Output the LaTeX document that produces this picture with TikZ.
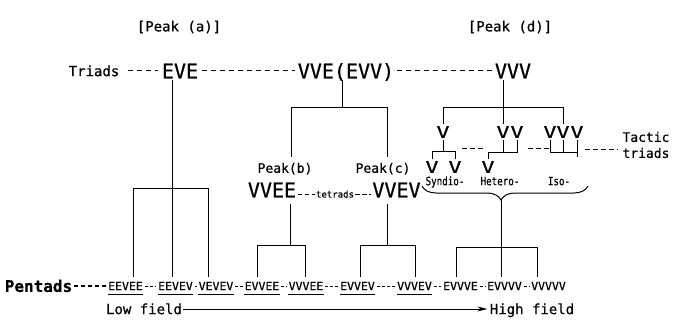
\documentclass[tikz,border=0pt]{standalone}
\usepackage{fontspec}
\newfontfamily\lettering[FakeBold=0.6]{DejaVu Sans Mono}
\newfontfamily\wideletter[FakeStretch=1.35, FakeBold=0.6]{DejaVu Sans Mono}
\newfontfamily\narrowletter[FakeStretch=0.8, FakeBold=0.6]{DejaVu Sans Mono}
\usetikzlibrary{arrows.meta,decorations.pathreplacing}
\newcommand\lsz[1]{\fontsize{#1}{#1}\selectfont}

\tikzset{
  every node/.style={inner sep=0pt},
  headtxt/.style={font=\lettering\lsz{14}},
  axistxt/.style={font=\lettering\lsz{14}, text height=10.2pt, text depth=0pt},
  triadtxt/.style={font=\lettering\lsz{20}, text height=14.6pt, text depth=0pt, inner ysep=1.5pt},
  tetradtxt/.style={font=\lettering\lsz{20}, text height=14.6pt, text depth=0pt, inner ysep=6pt},
  tettxt/.style={font=\lettering\lsz{9}, anchor=base},
  peaktxt/.style={font=\lettering\lsz{13}, text height=9.5pt, text depth=0pt, inner ysep=6pt},
  pentlbl/.style={font=\lettering\bfseries\lsz{16}, text height=11.7pt, text depth=0pt},
  penttxt/.style={font=\lettering\lsz{11.5}, text height=8.4pt, text depth=0pt, inner ysep=4pt},
  tvtxt/.style={font=\wideletter\lsz{16}, text height=11.7pt, text depth=0pt, inner ysep=2pt},
  smalltxt/.style={font=\narrowletter\lsz{11.5}, text height=8.4pt, text depth=0pt},
  tactxt/.style={font=\lettering\fontsize{13}{16}\selectfont, align=left},
  dashln/.style={dash pattern=on 5.5pt off 3.5pt, line width=1pt},
  leaddash/.style={dash pattern=on 4.5pt off 2.5pt, line width=1.6pt, shorten <=1pt, shorten >=2pt},
  pentdash/.style={dash pattern=on 3pt off 2pt, line width=1pt, shorten <=1.5pt, shorten >=1.5pt},
  tacdash/.style={dash pattern=on 5pt off 3pt, line width=1pt},
  uline/.style={line width=0.9pt},
}

\begin{document}
\begin{tikzpicture}[x=1pt, y=-1pt, line width=1pt]
\useasboundingbox (0,0) rectangle (679,331);
\fill[white] (0,0) rectangle (679,331);

% peak headings
\node[headtxt] (pka) at (179,27) {[Peak (a)]};
\node[headtxt] (pkd) at (510,27) {[Peak (d)]};

% triad row
\node[axistxt] (tri) at (94,71) {Triads};
\node[triadtxt] (eve) at (180,71) {EVE};
\node[triadtxt] (vve) at (346,71) {VVE(EVV)};
\node[triadtxt] (vvv) at (513,71) {VVV};
\draw[dashln, shorten <=8pt, shorten >=3pt] (tri.east) -- (eve.west);
\draw[dashln, shorten <=3pt, shorten >=2pt] (eve.east) -- (vve.west);
\draw[dashln, shorten <=2pt, shorten >=2pt] (vve.east) -- (vvv.west);

% peak (b) / peak (c) labels and tetrads
\node[peaktxt] (pkb) at (285,168) {Peak(b)};
\node[peaktxt] (pkc) at (383,168) {Peak(c)};
\node[tetradtxt] (vvee) at (272,190) {VVEE};
\node[tettxt] (tet) at (335,197.5) {tetrads};
\node[tetradtxt] (vvev) at (396.5,190) {VVEV};
\draw[dashln, dash pattern=on 4.5pt off 2.5pt, shorten <=1pt, shorten >=1pt] (tet.west -| vvee.east) -- (tet.west);
\draw[dashln, dash pattern=on 4.5pt off 2.5pt, shorten <=1pt, shorten >=1pt] (tet.east) -- (tet.east -| vvev.west);

% tactic triads
\node[tvtxt] (v1) at (443,132) {V};
\node[tvtxt] (vv1) at (503,132) {V};
\node[tvtxt] (vv2) at (517,132) {V};
\node[tvtxt] (vvv1) at (550,132) {V};
\node[tvtxt] (vvv2) at (563,132) {V};
\node[tvtxt] (vvv3) at (577,132) {V};
\node[tvtxt] (s1) at (432,167) {V};
\node[tvtxt] (s2) at (455,167) {V};
\node[tvtxt] (h1) at (488,167) {V};
\node[tactxt] (tac) at (646,145) {Tactic\\triads};
\node[smalltxt] (syn) at (445,181) {Syndio-};
\node[smalltxt] (het) at (500,181) {Hetero-};
\node[smalltxt] (iso) at (559,181) {Iso-};

% pentad row
\node[pentlbl] (plbl) at (38.5,286) {Pentads};
\node[penttxt] (p1) at (125.5,286) {EEVEE};
\node[penttxt] (p2) at (175.5,286) {EEVEV};
\node[penttxt] (p3) at (216,286) {VEVEV};
\node[penttxt] (p4) at (262,286) {EVVEE};
\node[penttxt] (p5) at (306,286) {VVVEE};
\node[penttxt] (p6) at (357.5,286) {EVVEV};
\node[penttxt] (p7) at (414.5,286) {VVVEV};
\node[penttxt] (p8) at (460.5,286) {EVVVE};
\node[penttxt] (p9) at (504.5,286) {EVVVV};
\node[penttxt] (p10) at (548.5,286) {VVVVV};
\draw[leaddash] (plbl.east) -- (p1.west);
\draw[pentdash] (p1) -- (p2);
\draw[pentdash] (p2) -- (p3);
\draw[pentdash] (p3) -- (p4);
\draw[pentdash] (p4) -- (p5);
\draw[pentdash] (p5) -- (p6);
\draw[pentdash] (p6) -- (p7);
\draw[pentdash] (p7) -- (p8);
\draw[pentdash] (p8) -- (p9);
\draw[pentdash] (p9) -- (p10);
\foreach \n in {p1,p2,p3,p4,p5,p6,p7}
  \draw[uline] (\n.south west) -- (\n.south east);

% field axis
\node[axistxt] (low) at (144,309) {Low field};
\node[axistxt] (high) at (532,309) {High field};
\draw[line width=0.9pt, -{Stealth[length=10pt, width=5pt]}, shorten <=1pt, shorten >=2pt] (low.east) -- (high.west);

% EVE tree
\coordinate (ja) at (172,188);
\coordinate (ja1) at (133,188);
\coordinate (ja3) at (208,188);
\draw (eve.south -| ja) -- (ja |- p2.north);
\draw (ja1 |- p1.north) -- (ja1) -- (ja3) -- (ja3 |- p3.north);

% VVE(EVV) tree
\coordinate (jb) at (342,108);
\coordinate (jb1) at (291,108);
\coordinate (jb2) at (387,108);
\draw (vve.south -| jb) -- (jb);
\draw (jb1 |- pkb.north) -- (jb1) -- (jb2) -- (jb2 |- pkc.north);

% tetrad trees
\coordinate (jc) at (290,245);
\coordinate (jc1) at (257,245);
\coordinate (jc2) at (305,245);
\draw (vvee.south -| jc) -- (jc);
\draw (jc1 |- p4.north) -- (jc1) -- (jc2) -- (jc2 |- p5.north);
\coordinate (jd) at (387,245);
\coordinate (jd1) at (360,245);
\coordinate (jd2) at (415,245);
\draw (vvev.south -| jd) -- (jd);
\draw (jd1 |- p6.north) -- (jd1) -- (jd2) -- (jd2 |- p7.north);

% VVV tree
\coordinate (jv) at (503,108);
\draw (vvv.south -| vv1) -- (vv1.north);
\draw (v1.north) -- (v1.north |- jv) -- (jv -| vvv2) -- (vvv2.north);

% syndio, hetero, iso brackets
\coordinate (jsl) at (432,152);
\coordinate (jsr) at (455,152);
\draw (v1.south) -- (v1.south |- jsl);
\draw (s1.north) -- (jsl) -- (jsr) -- (s2.north);
\coordinate (jh) at (517,153);
\draw (vv2.south) -- (jh) -- (jh -| h1) -- (h1.north);
\draw (vv1.south) -- (vv1.south |- jh);
\coordinate (ji) at (577,153);
\coordinate (jit) at (577,157);
\draw (vvv1.south) -- (vvv1.south |- ji) -- (ji);
\draw (vvv2.south) -- (vvv2.south |- ji);
\draw (vvv3.south) -- (jit);

% tactic triad leader
\coordinate (ts1) at (462,149);
\coordinate (ts2) at (485,149);
\coordinate (ts3) at (528,149);
\coordinate (ts4) at (550,149);
\coordinate (ts5) at (585,150);
\draw[tacdash] (ts1) -- (ts2);
\draw[tacdash] (ts3) -- (ts4);
\draw[tacdash, shorten >=4pt] (ts5) -- (ts5 -| tac.west);

% brace over the tactic sequences
\coordinate (bl) at (422,186);
\coordinate (br) at (588,186);
\coordinate (tip) at (501,200);
\coordinate (je) at (501,247);
\coordinate (je1) at (456,247);
\coordinate (je3) at (537,247);
\draw[decorate, decoration={brace, mirror, amplitude=14pt, aspect=0.476}] (bl) -- (br);
\draw (tip) -- (je);
\draw (je1 |- p8.north) -- (je1) -- (je3) -- (je3 |- p10.north);
\draw (je) -- (je |- p9.north);
\end{tikzpicture}
\end{document}
